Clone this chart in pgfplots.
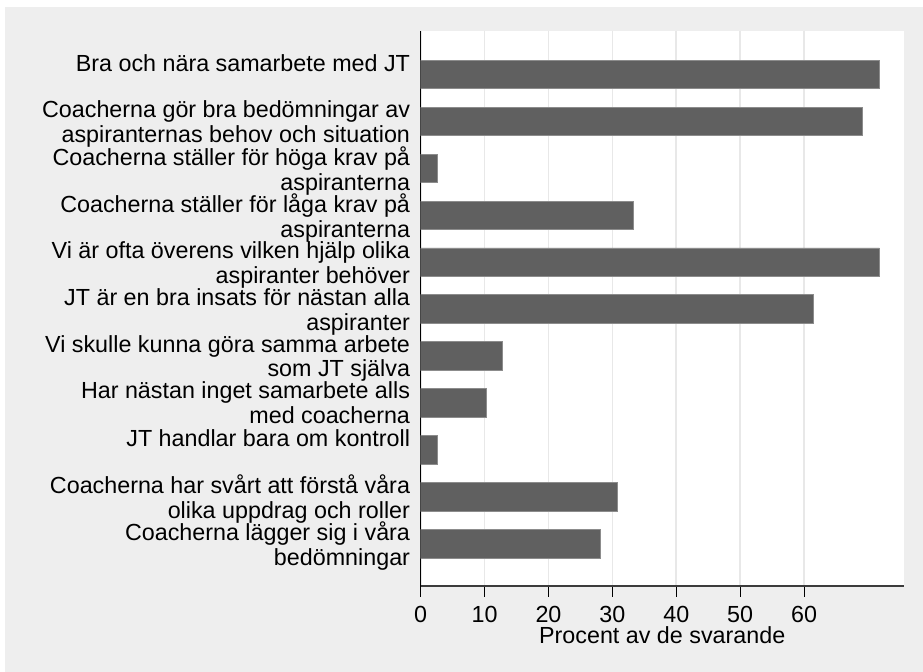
\documentclass[border=0pt]{standalone}
\usepackage{fontspec}
\setmainfont{Liberation Sans}
\usepackage{pgfplots}
\pgfplotsset{compat=1.18}
\definecolor{bgout}{RGB}{238,238,238}
\definecolor{barfill}{RGB}{96,96,96}
\definecolor{baredge}{RGB}{140,140,140}
\definecolor{gridc}{RGB}{232,232,232}
\definecolor{xaxc}{RGB}{60,60,60}
\newcommand{\lf}{\fontsize{23.3bp}{23.45bp}\selectfont}
\begin{document}
\begin{tikzpicture}[x=1bp,y=1bp]
\useasboundingbox (0,0) rectangle (923,672);
\fill[white] (0,0) rectangle (923,672);
\fill[bgout] (5,0) rectangle (923,665);
\begin{axis}[
  at={(420.7bp,86bp)}, anchor=south west, scale only axis,
  width=483bp, height=555bp,
  xbar, bar width=28.5bp,
  xmin=0, xmax=75.6,
  ymin=0.073, ymax=11.9, y dir=reverse,
  axis background/.style={fill=white},
  axis x line=bottom, axis y line=left,
  x axis line style={-, xaxc, line width=1.3bp},
  y axis line style={-, black, line width=1bp},
  xtick={0,10,...,60},
  xmajorgrids, major grid style={gridc, line width=1.6bp},
  tick align=outside, major tick length=10.5bp,
  xtick style={black, line width=1bp},
  ytick style={draw=none},
  /pgf/number format/assume math mode=true,
  xticklabel style={font=\lf, anchor=base, inner sep=0pt, yshift=-25.8bp},
  ytick={1,...,11},
  yticklabels={
    {\strut Bra och nära samarbete med JT\\\strut},
    {\strut Coacherna gör bra bedömningar av\\aspiranternas behov och situation\strut},
    {\strut Coacherna ställer för höga krav på\\aspiranterna\strut},
    {\strut Coacherna ställer för låga krav på\\aspiranterna\strut},
    {\strut Vi är ofta överens vilken hjälp olika\\aspiranter behöver\strut},
    {\strut JT är en bra insats för nästan alla\\aspiranter\strut},
    {\strut Vi skulle kunna göra samma arbete\\som JT själva\strut},
    {\strut Har nästan inget samarbete alls\\med coacherna\strut},
    {\strut JT handlar bara om kontroll\\\strut},
    {\strut Coacherna har svårt att förstå våra\\olika uppdrag och roller\strut},
    {\strut Coacherna lägger sig i våra\\bedömningar\strut}
  },
  yticklabel style={font=\lf, align=right, anchor=east, inner sep=0pt, xshift=0bp, yshift=-3.5bp},
  xlabel={Procent av de svarande},
  xlabel style={at={(axis description cs:0.5,0)}, anchor=base, yshift=-57.3bp, font=\lf, inner sep=0pt},
]
\addplot[fill=barfill, draw=baredge, line width=0.8bp] coordinates {
  (71.8,1) (69.2,2) (2.56,3) (33.3,4) (71.8,5) (61.5,6)
  (12.8,7) (10.3,8) (2.56,9) (30.8,10) (28.2,11)
};
\end{axis}
\end{tikzpicture}
\end{document}
